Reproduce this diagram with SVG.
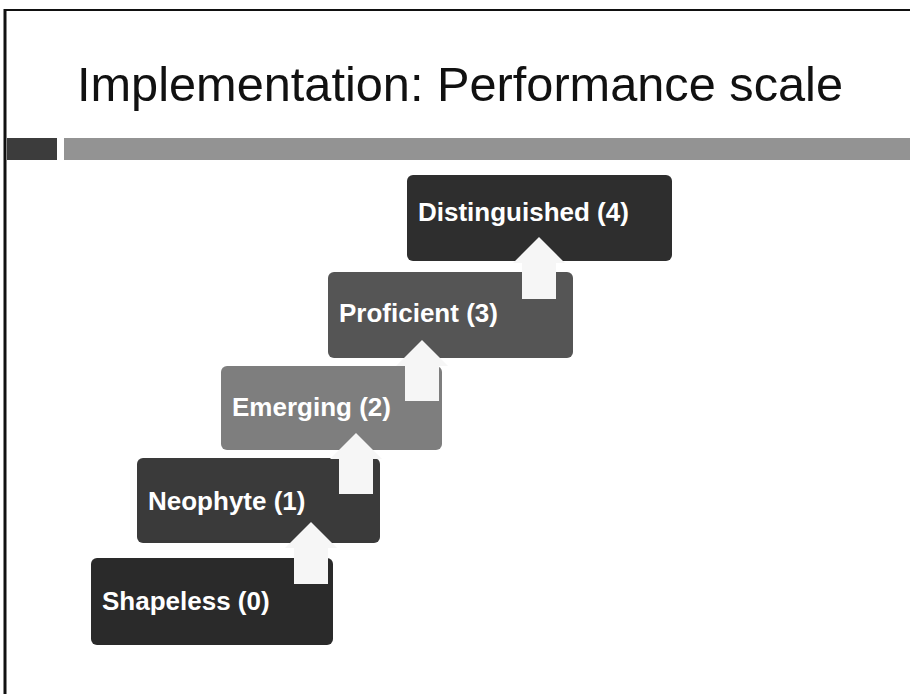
<svg xmlns="http://www.w3.org/2000/svg" width="910" height="694" viewBox="0 0 910 694">
<style>
.title{font-family:"Liberation Sans","DejaVu Sans",sans-serif;font-size:49px;fill:#111}
.lbl{font-family:"Liberation Sans","Arial",sans-serif;font-size:26px;font-weight:bold;fill:#fff}
.arrow{fill:#f6f6f6;stroke:none}
</style>
<rect width="910" height="694" fill="#fff"/>
<g id="frame">
<line x1="5" y1="10" x2="910" y2="10" stroke="#111" stroke-width="2"/>
<line x1="5" y1="9" x2="5" y2="694" stroke="#111" stroke-width="3"/>
</g>
<g id="title">
<text class="title" x="77" y="101" textLength="766" lengthAdjust="spacingAndGlyphs">Implementation: Performance scale</text>
</g>
<g id="rule">
<rect x="7" y="138" width="50" height="22" fill="#3c3c3c"/>
<rect x="64" y="138" width="846" height="22" fill="#939393"/>
</g>
<g id="node-distinguished">
<rect x="407" y="175" width="265" height="86" rx="6" fill="#2e2e2e"/>
<text class="lbl" x="418" y="221">Distinguished (4)</text>
</g>
<g id="node-proficient">
<rect x="328" y="272" width="245" height="86" rx="6" fill="#555"/>
<text class="lbl" x="339" y="322">Proficient (3)</text>
</g>
<g id="node-emerging">
<rect x="221" y="366" width="221" height="84" rx="6" fill="#7e7e7e"/>
<text class="lbl" x="232" y="416">Emerging (2)</text>
</g>
<g id="node-neophyte">
<rect x="137" y="458" width="243" height="85" rx="6" fill="#3a3a3a"/>
<text class="lbl" x="148" y="510">Neophyte (1)</text>
</g>
<g id="node-shapeless">
<rect x="91" y="558" width="242" height="87" rx="6" fill="#2a2a2a"/>
<text class="lbl" x="102" y="610">Shapeless (0)</text>
</g>
<g id="connectors">
<polygon class="arrow" points="311,522 337,548 328,548 328,584 294,584 294,548 285,548"/>
<polygon class="arrow" points="356,433 382,459 373,459 373,494 339,494 339,459 330,459"/>
<polygon class="arrow" points="422,340 448,366 439,366 439,401 405,401 405,366 396,366"/>
<polygon class="arrow" points="539,237 565,263 556,263 556,299 522,299 522,263 513,263"/>
</g>
</svg>
